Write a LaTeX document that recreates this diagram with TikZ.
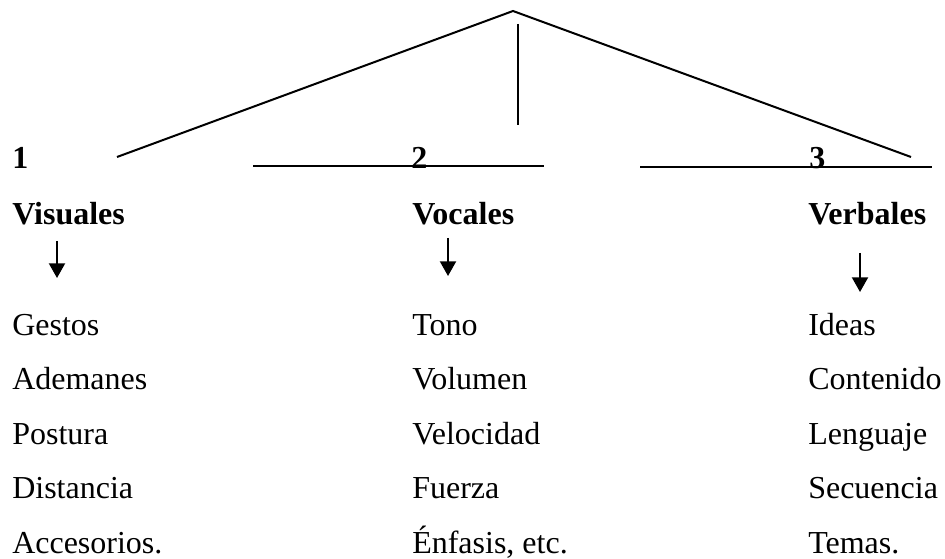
\documentclass[tikz,border=0pt]{standalone}
\usepackage{fontspec}
\setmainfont{Liberation Serif}
\usetikzlibrary{arrows.meta}
\tikzset{
  txt/.style={anchor=base west,inner sep=0pt,font=\fontsize{24}{28}\selectfont},
  head/.style={txt,font=\fontsize{24}{28}\selectfont\bfseries},
  ln/.style={line width=1.5pt},
  dn/.style={line width=1.5pt,-{Triangle[width=12pt,length=11pt]}}
}
\begin{document}
\begin{tikzpicture}[x=0.75pt,y=-0.75pt]
 \useasboundingbox (0,0) rectangle (945,559);
 \coordinate (top) at (513,11);
 \coordinate (l) at (117,157);
 \coordinate (r) at (911,157);
 \coordinate (ma) at (518,24);
 \coordinate (mb) at (518,125);
 \draw[ln] (l)--(top)--(r);
 \draw[ln] (ma)--(mb);
 \coordinate (h1a) at (253,166);
 \coordinate (h1b) at (544,166);
 \coordinate (h2a) at (640,167);
 \coordinate (h2b) at (932,167);
 \draw[ln] (h1a)--(h1b);
 \draw[ln] (h2a)--(h2b);
 \node[head] (n1) at (12,169) {1};
 \node[head] (n2) at (411,169) {2};
 \node[head] (n3) at (809,169) {3};
 \node[head] (vis) at (12,225) {Visuales};
 \node[head] (voc) at (412,225) {Vocales};
 \node[head] (ver) at (808,225) {Verbales};
 \coordinate (a1) at (57,241);
 \coordinate (b1) at (57,278);
 \coordinate (a2) at (448,238);
 \coordinate (b2) at (448,276);
 \coordinate (a3) at (860,253);
 \coordinate (b3) at (860,292);
 \draw[dn] (a1)--(b1);
 \draw[dn] (a2)--(b2);
 \draw[dn] (a3)--(b3);
 \foreach \t [count=\i from 0] in {Gestos,Ademanes,Postura,Distancia,Accesorios.}
  \node[txt] (vis\i) at (12,335+54.5*\i) {\t};
 \foreach \t [count=\i from 0] in {Tono,Volumen,Velocidad,Fuerza,{Énfasis, etc.}}
  \node[txt] (voc\i) at (412,335+54.5*\i) {\t};
 \foreach \t [count=\i from 0] in {Ideas,Contenido,Lenguaje,Secuencia,Temas.}
  \node[txt] (ver\i) at (808,335+54.5*\i) {\t};
\end{tikzpicture}
\end{document}
